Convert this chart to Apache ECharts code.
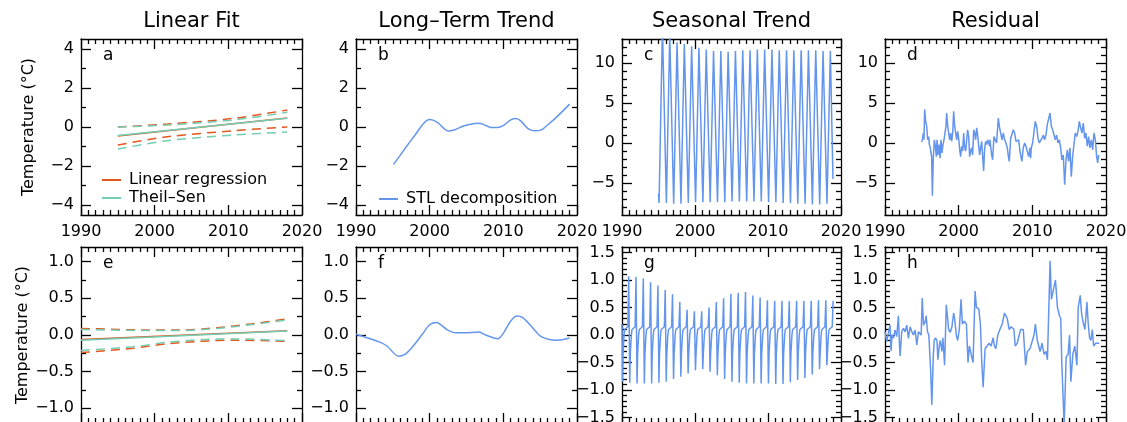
<!DOCTYPE html>
<html><head><meta charset="utf-8">
<script src="https://cdn.jsdelivr.net/npm/echarts@6/dist/echarts.min.js"></script>
<style>html,body{margin:0;padding:0;background:#fff}#c{width:1127px;height:422px}</style>
</head><body><div id="c"></div>
<script>
const FONT = 'DejaVu Sans';
const ORANGE = '#E2571E', TEAL = '#72CDB4', BLUE = '#6495ED';

const panelTitles = ['Linear Fit', 'Long\u2013Term Trend', 'Seasonal Trend', 'Residual'];
const panelLetters = ['a', 'b', 'c', 'd', 'e', 'f', 'g', 'h'];
const yAxisTitle = 'Temperature (\u00B0C)';
const legendLinear = ['Linear regression', 'Theil\u2013Sen'];
const legendTrend = ['STL decomposition'];

const xTickValues = [1990, 2000, 2010, 2020];
const yMajorAB = [-4, -2, 0, 2, 4];
const yMinorAB = [-3, -1, 1, 3];
const yMajorCD = [-5, 0, 5, 10];
const yMinorCD = [-8, -7, -6, -4, -3, -2, -1, 1, 2, 3, 4, 6, 7, 8, 9, 11, 12];
const yMajorEF = [-1, -0.5, 0, 0.5, 1];
const yMinorEF = [-0.75, -0.25, 0.25, 0.75];
const yMajorGH = [-1.5, -1, -0.5, 0, 0.5, 1, 1.5];
const yMinorGH = [-1.4, -1.3, -1.2, -1.1, -0.9, -0.8, -0.7, -0.6, -0.4, -0.3, -0.2, -0.1,
  0.1, 0.2, 0.3, 0.4, 0.6, 0.7, 0.8, 0.9, 1.1, 1.2, 1.3, 1.4];

// ---- panel a : linear fits (1995-2018)
const aLinRegFit = [[1995, -0.46], [2018, 0.46]];
const aLinRegUpper = [[1995, 0.0], [2001.7, 0.15], [2010.7, 0.44], [2018, 0.87]];
const aLinRegLower = [[1995, -0.92], [2001.7, -0.5], [2010.7, -0.19], [2018, 0.0]];
const aTheilSenFit = [[1995, -0.44], [2018, 0.45]];
const aTheilSenUpper = [[1995, 0.0], [2001.7, 0.1], [2010.7, 0.36], [2018, 0.75]];
const aTheilSenLower = [[1995, -1.13], [2001.7, -0.7], [2010.7, -0.41], [2018, -0.26]];

// ---- panel e : linear fits (1990-2018)
const eLinRegFit = [[1990, -0.063], [2018, 0.059]];
const eLinRegUpper = [[1990, 0.09], [1999.4, 0.068], [2003.9, 0.068], [2008.5, 0.1], [2013, 0.15], [2018, 0.22]];
const eLinRegLower = [[1990, -0.24], [1997.1, -0.18], [2001.7, -0.12], [2006.3, -0.086], [2010.9, -0.07], [2018, -0.086]];
const eTheilSenFit = [[1990, -0.07], [2018, 0.055]];
const eTheilSenUpper = [[1990, 0.075], [1999.4, 0.06], [2003.9, 0.062], [2008.5, 0.09], [2013, 0.14], [2018, 0.205]];
const eTheilSenLower = [[1990, -0.21], [1997.1, -0.16], [2001.7, -0.1], [2006.3, -0.063], [2010.9, -0.054], [2018, -0.077]];

// ---- panel b : STL long-term trend
const bTrend = [[1995.1, -1.91], [1996, -1.45], [1997, -0.92], [1998, -0.42], [1999.2, 0.19], [2000, 0.38],
  [2001, 0.25], [2002.5, -0.2], [2003.3, -0.15], [2004.6, 0.05], [2006.5, 0.19], [2007.1, 0.16],
  [2008.3, -0.02], [2009.2, -0.03], [2010.1, 0.1], [2011, 0.36], [2011.7, 0.43], [2012.4, 0.3],
  [2013.3, -0.07], [2014.2, -0.19], [2015.1, -0.16], [2016, 0.1], [2017.3, 0.53], [2019, 1.17]];

// ---- panel f : STL long-term trend
const fTrend = [[1990, 0.01], [1993.3, -0.1], [1994.2, -0.15], [1995.8, -0.29], [1996.7, -0.26],
  [1997.6, -0.17], [1999, 0.01], [2000, 0.14], [2000.9, 0.17], [2002.4, 0.07], [2003.5, 0.03],
  [2004.6, 0.03], [2006.7, 0.04], [2007.6, 0.0], [2008.7, -0.04], [2009.3, -0.05], [2010.1, 0.04],
  [2011, 0.19], [2011.8, 0.26], [2012.6, 0.24], [2013.7, 0.13], [2015.1, -0.02], [2016.2, -0.06],
  [2017.3, -0.07], [2019, -0.04]];

// ---- panel c : seasonal cycle (one trough and one peak per year)
const cYears = [1995, 1996, 1997, 1998, 1999, 2000, 2001, 2002, 2003, 2004, 2005, 2006,
  2007, 2008, 2009, 2010, 2011, 2012, 2013, 2014, 2015, 2016, 2017, 2018];
const cPeaks = [14.5, 13.6, 12.6, 12.4, 12.1, 11.9, 11.7, 11.5, 11.5, 11.4, 11.5, 11.6,
  11.6, 11.7, 11.7, 11.7, 11.6, 11.6, 11.6, 11.6, 11.6, 11.6, 11.5, 11.5];
const cTroughs = [-7.5, -7.5, -7.6, -7.6, -7.5, -7.4, -7.4, -7.4, -7.4, -7.4, -7.3, -7.3,
  -7.3, -7.3, -7.3, -7.4, -7.4, -7.5, -7.5, -7.6, -7.6, -7.7, -7.7, -7.6];
const cStart = [1995.0, -6.3];
const cEnd = [2018.9, -4.5];

// ---- panel g : seasonal cycle (1990-2018)
const gYears = [1990, 1991, 1992, 1993, 1994, 1995, 1996, 1997, 1998, 1999, 2000, 2001, 2002, 2003,
  2004, 2005, 2006, 2007, 2008, 2009, 2010, 2011, 2012, 2013, 2014, 2015, 2016, 2017, 2018];
const gPeaks = [1.07, 1.06, 1.03, 0.96, 0.9, 0.82, 0.74, 0.6, 0.46, 0.43, 0.43, 0.5, 0.6, 0.67,
  0.75, 0.77, 0.78, 0.72, 0.68, 0.63, 0.62, 0.62, 0.62, 0.62, 0.62, 0.62, 0.63, 0.63, 0.62];
const gTroughs = [-0.85, -0.87, -0.88, -0.88, -0.88, -0.87, -0.85, -0.8, -0.76, -0.7, -0.64, -0.62,
  -0.67, -0.73, -0.8, -0.85, -0.87, -0.88, -0.88, -0.88, -0.88, -0.89, -0.89, -0.86, -0.82, -0.78,
  -0.72, -0.62, -0.55];
const gRise = [-0.35, 0.0, 0.1, 0.15];   // levels after each trough, before the next peak
const gStart = [1990.0, 0.2];

// ---- panel d : residual
const dResidual = [[1994.98, 0.1], [1995.11, 0.6], [1995.2, 1.25], [1995.29, 0.4], [1995.38, 4.2],
  [1995.52, 2.7], [1995.66, 2.1], [1995.79, 0.4], [1995.93, 0.8], [1996.02, -0.2], [1996.15, -0.6],
  [1996.24, -1.25], [1996.33, -1.7], [1996.43, -6.6], [1996.56, -1.7], [1996.7, 0.4], [1996.83, -0.4],
  [1996.97, -1.7], [1997.06, 0.4], [1997.19, -1.5], [1997.33, -0.2], [1997.47, -1.9], [1997.6, 0.4],
  [1997.74, -1.25], [1997.87, -0.2], [1998.01, 0.4], [1998.14, 0.2], [1998.28, 2.1], [1998.37, 3.75],
  [1998.51, 2.1], [1998.64, 1.25], [1998.78, 0.4], [1998.91, 1.25], [1999.05, 0.2], [1999.19, 1.25],
  [1999.32, 3.95], [1999.46, 2.1], [1999.59, 1.25], [1999.73, 0.4], [1999.86, 1.45], [2000.0, 0.6],
  [2000.14, -0.85], [2000.27, -1.7], [2000.41, -0.4], [2000.54, -1.0], [2000.68, 1.25], [2000.81, -0.6],
  [2000.95, -1.0], [2001.09, 0.4], [2001.22, 1.65], [2001.36, 0.8], [2001.49, -1.7], [2001.63, -1.0],
  [2001.76, -0.6], [2001.9, -1.5], [2002.04, 1.65], [2002.17, 1.25], [2002.31, 0.4], [2002.44, 1.9],
  [2002.58, 1.0], [2002.72, -0.4], [2002.85, -1.5], [2002.99, -0.6], [2003.12, 0.2], [2003.26, 0.4],
  [2003.39, -3.5], [2003.53, -0.6], [2003.67, 0.2], [2003.8, -0.2], [2003.94, 0.4], [2004.07, 0.0],
  [2004.21, -0.4], [2004.25, 0.4], [2004.48, -1.5], [2004.61, -2.1], [2004.79, 0.8], [2004.93, 1.0],
  [2005.15, 0.0], [2005.38, 3.1], [2005.52, 2.1], [2005.7, 2.3], [2005.88, 0.4], [2006.06, 1.25],
  [2006.24, 0.4], [2006.42, 0.0], [2006.6, -0.6], [2006.78, -1.9], [2006.87, -2.3], [2007.06, 0.6],
  [2007.24, 0.4], [2007.42, 1.65], [2007.6, 1.25], [2007.78, 0.2], [2007.96, 0.0], [2008.14, 0.4],
  [2008.32, -1.0], [2008.5, -1.9], [2008.59, -2.3], [2008.77, -0.6], [2008.96, 0.0], [2009.14, -0.4],
  [2009.32, -0.2], [2009.5, -1.7], [2009.68, -0.6], [2009.77, -1.9], [2009.86, -0.6], [2010.04, 0.0],
  [2010.22, 0.2], [2010.4, 2.7], [2010.58, 2.1], [2010.77, 0.6], [2010.95, 0.0], [2011.13, -0.2],
  [2011.31, 0.6], [2011.49, 1.0], [2011.67, 0.4], [2011.85, 1.0], [2012.03, 2.3], [2012.21, 2.5],
  [2012.4, 3.75], [2012.58, 2.1], [2012.76, 1.65], [2012.94, 1.9], [2013.12, 0.4], [2013.3, 1.0],
  [2013.48, 0.0], [2013.66, 0.4], [2013.84, -0.6], [2014.02, -2.1], [2014.2, -1.5], [2014.39, -5.2],
  [2014.57, -2.1], [2014.75, -0.85], [2014.93, -2.3], [2015.11, -0.6], [2015.29, -4.2], [2015.47, -1.7],
  [2015.65, -0.2], [2015.83, 1.25], [2016.01, 0.8], [2016.2, 1.45], [2016.38, 2.7], [2016.56, 1.9],
  [2016.74, 1.25], [2016.92, 2.5], [2017.1, 0.6], [2017.28, 1.25], [2017.46, -0.4], [2017.64, 0.8],
  [2017.82, -0.6], [2018.01, 0.4], [2018.19, -0.85], [2018.37, 1.25], [2018.55, 0.4], [2018.73, -1.7],
  [2018.87, -2.5], [2019.0, -1.5]];

// ---- panel h : residual
const hResidual = [[1990.0, 0.06], [1990.23, -0.12], [1990.45, 0.03], [1990.68, 0.18], [1990.82, -0.29],
  [1990.95, 0.0], [1991.14, -0.06], [1991.36, 0.09], [1991.59, -0.03], [1991.82, 0.35], [1991.95, -0.12],
  [1992.05, -0.38], [1992.27, 0.06], [1992.5, 0.12], [1992.73, 0.06], [1992.95, 0.18], [1993.18, -0.06],
  [1993.41, 0.15], [1993.64, 0.06], [1993.86, 0.0], [1994.09, 0.09], [1994.32, -0.18], [1994.55, 0.06],
  [1994.77, 0.09], [1994.91, 0.0], [1995.05, 0.67], [1995.23, 0.18], [1995.45, 0.24], [1995.59, 0.35],
  [1995.77, 0.06], [1995.95, 0.0], [1996.18, -0.6], [1996.36, -1.27], [1996.55, -0.4], [1996.68, -0.1],
  [1996.86, -0.05], [1997.05, -0.1], [1997.18, -0.45], [1997.36, -0.2], [1997.5, -0.1], [1997.73, -0.3],
  [1997.86, -0.05], [1998.09, -0.55], [1998.32, 0.55], [1998.5, 0.3], [1998.64, 0.1], [1998.86, 0.05],
  [1999.09, 0.15], [1999.32, 0.4], [1999.45, 0.3], [1999.68, 0.0], [1999.86, -0.1], [2000.09, 0.1],
  [2000.32, 0.65], [2000.5, 0.2], [2000.77, 0.25], [2001.05, 0.2], [2001.27, -0.5], [2001.45, -0.2],
  [2001.68, -0.2], [2001.95, -0.5], [2002.23, 0.8], [2002.41, 0.5], [2002.73, 0.48], [2002.95, 0.2],
  [2003.14, -0.5], [2003.32, -0.95], [2003.59, -0.25], [2003.86, -0.25], [2004.14, -0.15], [2004.41, -0.2],
  [2004.68, -0.05], [2004.86, -0.2], [2005.05, -0.25], [2005.32, 0.0], [2005.59, 0.1], [2005.91, 0.2],
  [2006.23, 0.4], [2006.59, 0.3], [2006.86, 0.1], [2007.14, 0.15], [2007.5, 0.1], [2007.68, -0.2],
  [2007.95, -0.15], [2008.41, 0.1], [2008.77, 0.1], [2009.09, -0.55], [2009.32, -0.3], [2009.68, -0.25],
  [2009.95, -0.25], [2010.23, 0.0], [2010.41, 0.2], [2010.68, -0.1], [2011.05, -0.3], [2011.32, -0.15],
  [2011.59, -0.35], [2011.86, -0.3], [2012.05, -0.45], [2012.41, 1.35], [2012.59, 0.65], [2012.86, 0.65],
  [2013.14, 1.0], [2013.41, 0.5], [2013.68, 0.35], [2013.86, 0.3], [2014.0, -0.5], [2014.32, -1.65],
  [2014.59, -0.4], [2014.86, -0.35], [2015.05, 0.0], [2015.23, -0.85], [2015.5, -0.35], [2015.77, -0.2],
  [2016.05, -0.55], [2016.23, 0.5], [2016.5, 0.72], [2016.68, 0.4], [2016.86, 0.25], [2017.14, 0.1],
  [2017.41, 0.6], [2017.59, 0.2], [2017.77, -0.05], [2017.95, -0.1], [2018.14, 0.1], [2018.32, -0.2],
  [2018.59, -0.15], [2018.86, -0.18], [2019.09, -0.15]];

// ---------- build seasonal series from peaks/troughs ----------
const cSeasonal = [cStart];
cYears.forEach((y, i) => { cSeasonal.push([y + 0.08, cTroughs[i]]); cSeasonal.push([y + 0.54, cPeaks[i]]); });
cSeasonal.push(cEnd);

const gOffsets = [0.14, 0.28, 0.37, 0.8];
const gSeasonal = [gStart];
gYears.forEach((y, i) => {
  gSeasonal.push([y + 0.06, gTroughs[i]]);
  gRise.forEach((v, k) => gSeasonal.push([y + gOffsets[k], v]));
  gSeasonal.push([y + 0.92, gPeaks[i]]);
});

// ---------- layout ----------
const colLeft = [81, 356, 622, 885];
const colWidth = [221, 221, 219, 221];
const rowTop = [39, 247];
const panelH = 176;

const yConf = [
  { min: -4.5, max: 4.5, major: yMajorAB, minor: yMinorAB, dec: 0 },
  { min: -4.5, max: 4.5, major: yMajorAB, minor: yMinorAB, dec: 0 },
  { min: -9, max: 13, major: yMajorCD, minor: yMinorCD, dec: 0 },
  { min: -9, max: 13, major: yMajorCD, minor: yMinorCD, dec: 0 },
  { min: -1.2, max: 1.2, major: yMajorEF, minor: yMinorEF, dec: 1 },
  { min: -1.2, max: 1.2, major: yMajorEF, minor: yMinorEF, dec: 1 },
  { min: -1.6, max: 1.6, major: yMajorGH, minor: yMinorGH, dec: 1 },
  { min: -1.6, max: 1.6, major: yMajorGH, minor: yMinorGH, dec: 1 }
];

const black = { color: '#000', width: 1.3 };
const grid = [], xAxis = [], yAxis = [];
for (let i = 0; i < 8; i++) {
  const col = i % 4, row = Math.floor(i / 4);
  grid.push({ left: colLeft[col], top: rowTop[row], width: colWidth[col], height: panelH,
    containLabel: false, outerBoundsMode: 'none' });
  const xBase = {
    gridIndex: i, type: 'value', min: xTickValues[0], max: xTickValues[xTickValues.length - 1], interval: 10,
    axisLine: { show: true, onZero: false, lineStyle: black },
    axisTick: { show: true, inside: true, length: 10, lineStyle: black },
    minorTick: { show: true, splitNumber: 10, length: 5, lineStyle: black },
    splitLine: { show: false }, minorSplitLine: { show: false }
  };
  xAxis.push(Object.assign({}, xBase, {
    position: 'bottom',
    axisLabel: { show: true, margin: 9, fontFamily: FONT, fontSize: 16, color: '#000',
      formatter: v => String(v) }
  }));
  xAxis.push(Object.assign({}, xBase, { position: 'top', axisLabel: { show: false } }));

  const yc = yConf[i];
  const fmt = v => (v < 0 ? '\u2212' : '') + Math.abs(v).toFixed(yc.dec);
  const yBase = {
    gridIndex: i, type: 'value', min: yc.min, max: yc.max,
    splitLine: { show: false }, minorTick: { show: false }
  };
  ['left', 'right'].forEach(pos => {
    yAxis.push(Object.assign({}, yBase, {
      position: pos,
      axisLine: { show: true, onZero: false, lineStyle: black },
      axisTick: { show: true, inside: true, length: 10, lineStyle: black, customValues: yc.major },
      axisLabel: pos === 'left'
        ? { show: true, margin: 7, fontFamily: FONT, fontSize: 16, color: '#000', customValues: yc.major, formatter: fmt }
        : { show: false },
      name: (pos === 'left' && col === 0) ? yAxisTitle : '',
      nameLocation: 'middle', nameGap: 44,
      nameTextStyle: { fontFamily: FONT, fontSize: 16, color: '#000' }
    }));
    yAxis.push(Object.assign({}, yBase, {
      position: pos,
      axisLine: { show: false },
      axisTick: { show: true, inside: true, length: 5, lineStyle: black, customValues: yc.minor },
      axisLabel: { show: false }
    }));
  });
}

function line(panel, name, data, color, dashed, extra) {
  return Object.assign({
    type: 'line', name, data, xAxisIndex: 2 * panel, yAxisIndex: 4 * panel,
    showSymbol: false, symbol: 'none', animation: false, silent: true,
    lineStyle: { color, width: 1.5, type: dashed ? [9, 6] : 'solid' },
    itemStyle: { color }
  }, extra || {});
}

const series = [
  line(0, 'LR upper a', aLinRegUpper, ORANGE, true, { smooth: 0.3 }),
  line(0, 'LR lower a', aLinRegLower, ORANGE, true, { smooth: 0.3 }),
  line(0, 'TS upper a', aTheilSenUpper, TEAL, true, { smooth: 0.3 }),
  line(0, 'TS lower a', aTheilSenLower, TEAL, true, { smooth: 0.3 }),
  line(0, legendLinear[0], aLinRegFit, ORANGE, false),
  line(0, legendLinear[1], aTheilSenFit, TEAL, false),
  line(1, legendTrend[0], bTrend, BLUE, false, { smooth: 0.3 }),
  line(2, 'seasonal c', cSeasonal, BLUE, false),
  line(3, 'residual d', dResidual, BLUE, false),
  line(4, 'LR upper e', eLinRegUpper, ORANGE, true, { smooth: 0.3 }),
  line(4, 'LR lower e', eLinRegLower, ORANGE, true, { smooth: 0.3 }),
  line(4, 'TS upper e', eTheilSenUpper, TEAL, true, { smooth: 0.3 }),
  line(4, 'TS lower e', eTheilSenLower, TEAL, true, { smooth: 0.3 }),
  line(4, 'LR fit e', eLinRegFit, ORANGE, false),
  line(4, 'TS fit e', eTheilSenFit, TEAL, false),
  line(5, 'trend f', fTrend, BLUE, false, { smooth: 0.3 }),
  line(6, 'seasonal g', gSeasonal, BLUE, false),
  line(7, 'residual h', hResidual, BLUE, false)
];

const graphic = [];
panelTitles.forEach((t, c) => graphic.push({
  type: 'text', x: colLeft[c] + colWidth[c] / 2, y: 22,
  style: { text: t, font: '21px "' + FONT + '"', fill: '#000', textAlign: 'center', textVerticalAlign: 'middle' }
}));
panelLetters.forEach((t, i) => {
  const col = i % 4, row = Math.floor(i / 4);
  graphic.push({
    type: 'text', x: colLeft[col] + 22, y: rowTop[row] + 17,
    style: { text: t, font: '17px "' + FONT + '"', fill: '#000', textAlign: 'left', textVerticalAlign: 'middle' }
  });
});

const legendText = { fontFamily: FONT, fontSize: 16, color: '#000', padding: [0, 0, 0, 3] };
const option = {
  backgroundColor: '#fff',
  animation: false,
  grid, xAxis, yAxis, series, graphic,
  legend: [
    { data: legendLinear, orient: 'vertical', left: 97, top: 167, icon: 'rect', itemWidth: 19, itemHeight: 2,
      itemGap: 2, textStyle: legendText, selectedMode: false },
    { data: legendTrend, orient: 'vertical', left: 374, top: 186, icon: 'rect', itemWidth: 19, itemHeight: 2,
      itemGap: 2, textStyle: legendText, selectedMode: false }
  ]
};
const chart = echarts.init(document.getElementById('c'), null, { renderer: 'canvas' });
chart.setOption(option);
</script></body></html>
